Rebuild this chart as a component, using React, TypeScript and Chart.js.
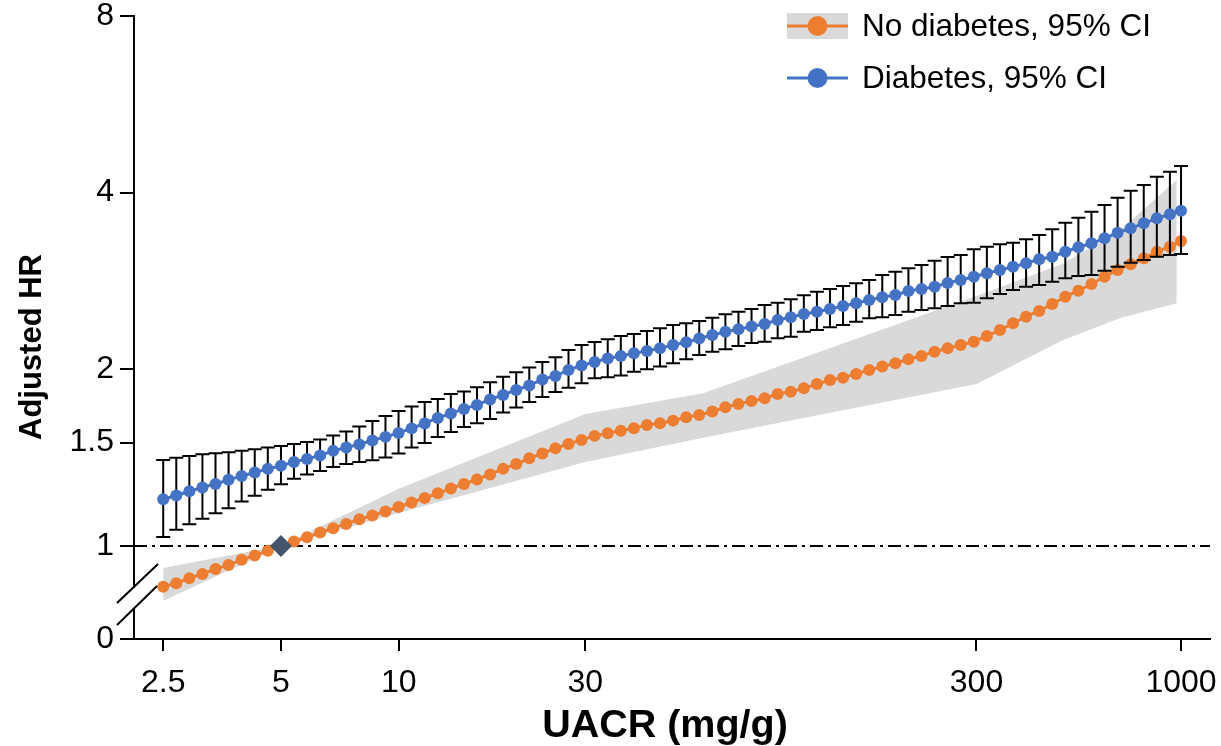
import React, { useEffect, useRef } from 'react';
import { Chart, registerables } from 'chart.js';

Chart.register(...registerables);

// ---- data ----
const uacr = [
  2.5, 2.7, 2.916, 3.149, 3.401, 3.673, 3.967, 4.285, 4.627, 5,
  5.397, 5.829, 6.295, 6.799, 7.343, 7.93, 8.565, 9.25, 9.99, 10.789,
  11.652, 12.585, 13.591, 14.679, 15.853, 17.121, 18.491, 19.97, 21.568, 23.293,
  25.157, 27.169, 29.343, 31.69, 34.225, 36.963, 39.92, 43.114, 46.563, 50.288,
  54.311, 58.656, 63.349, 68.417, 73.89, 79.801, 86.185, 93.08, 100.526, 108.569,
  117.254, 126.634, 136.765, 147.706, 159.523, 172.285, 186.067, 200.953, 217.029, 234.391,
  253.143, 273.394, 295.266, 318.887, 344.398, 371.95, 401.706, 433.842, 468.549, 506.033,
  546.516, 590.237, 637.456, 688.453, 743.529, 803.011, 867.252, 936.632, 1000,
];

const noDiabetesHR = [
  0.852, 0.864, 0.881, 0.896, 0.913, 0.928, 0.947, 0.963, 0.981, 1.0,
  1.017, 1.035, 1.054, 1.072, 1.09, 1.11, 1.127, 1.145, 1.165, 1.186,
  1.207, 1.229, 1.253, 1.275, 1.298, 1.324, 1.353, 1.379, 1.41, 1.437,
  1.467, 1.492, 1.516, 1.54, 1.556, 1.572, 1.587, 1.607, 1.618, 1.635,
  1.657, 1.672, 1.694, 1.723, 1.746, 1.766, 1.785, 1.815, 1.832, 1.856,
  1.888, 1.918, 1.935, 1.964, 1.995, 2.021, 2.048, 2.08, 2.107, 2.143,
  2.172, 2.2, 2.229, 2.279, 2.333, 2.396, 2.458, 2.514, 2.584, 2.659,
  2.722, 2.795, 2.876, 2.953, 3.019, 3.091, 3.172, 3.235, 3.308,
];

const diabetesHR = [
  1.201, 1.219, 1.239, 1.258, 1.275, 1.296, 1.316, 1.334, 1.353, 1.37,
  1.39, 1.407, 1.426, 1.452, 1.472, 1.489, 1.513, 1.534, 1.558, 1.586,
  1.617, 1.652, 1.682, 1.712, 1.739, 1.777, 1.808, 1.844, 1.877, 1.922,
  1.948, 1.995, 2.03, 2.058, 2.087, 2.107, 2.13, 2.149, 2.172, 2.2,
  2.223, 2.257, 2.288, 2.318, 2.34, 2.366, 2.389, 2.427, 2.453, 2.485,
  2.507, 2.534, 2.564, 2.591, 2.625, 2.653, 2.677, 2.719, 2.741, 2.765,
  2.806, 2.839, 2.876, 2.915, 2.953, 2.991, 3.031, 3.079, 3.111, 3.172,
  3.228, 3.279, 3.344, 3.418, 3.477, 3.546, 3.616, 3.674, 3.726,
];

const diabetesUpper = [
  1.401, 1.414, 1.423, 1.433, 1.439, 1.444, 1.453, 1.461, 1.471, 1.48,
  1.492, 1.504, 1.519, 1.543, 1.567, 1.598, 1.633, 1.665, 1.698, 1.729,
  1.759, 1.78, 1.815, 1.833, 1.864, 1.901, 1.943, 1.977, 2.013, 2.058,
  2.096, 2.157, 2.2, 2.226, 2.25, 2.279, 2.297, 2.324, 2.349, 2.38,
  2.396, 2.417, 2.449, 2.482, 2.507, 2.534, 2.574, 2.597, 2.632, 2.674,
  2.712, 2.741, 2.773, 2.803, 2.839, 2.895, 2.933, 2.972, 3.011, 3.062,
  3.107, 3.132, 3.202, 3.235, 3.266, 3.286, 3.33, 3.387, 3.464, 3.555,
  3.625, 3.711, 3.81, 3.921, 4.03, 4.121, 4.257, 4.342, 4.44,
];

const diabetesLower = [
  1.036, 1.065, 1.089, 1.112, 1.137, 1.159, 1.19, 1.218, 1.246, 1.274,
  1.301, 1.324, 1.342, 1.363, 1.379, 1.39, 1.399, 1.415, 1.437, 1.472,
  1.498, 1.534, 1.564, 1.595, 1.618, 1.646, 1.688, 1.722, 1.759, 1.794,
  1.83, 1.861, 1.893, 1.931, 1.938, 1.952, 1.981, 2.0, 2.021, 2.048,
  2.08, 2.116, 2.143, 2.163, 2.191, 2.217, 2.229, 2.259, 2.273, 2.318,
  2.333, 2.358, 2.38, 2.411, 2.443, 2.453, 2.475, 2.507, 2.524, 2.541,
  2.564, 2.591, 2.597, 2.642, 2.687, 2.73, 2.765, 2.784, 2.82, 2.858,
  2.884, 2.895, 2.944, 2.991, 3.038, 3.071, 3.111, 3.132, 3.144,
];

const bandUacr = [2.5, 5, 10, 30, 60, 300, 500, 700, 975];
const bandLower = [0.806, 0.998, 1.138, 1.39, 1.528, 1.888, 2.244, 2.446, 2.591];
const bandUpper = [0.917, 1.002, 1.251, 1.678, 1.82, 2.666, 3.028, 3.454, 4.203];

const referenceUacr = [5];
const referenceHR = [1];

const xTicks = [2.5, 5, 10, 30, 300, 1000];
const xTickLabels = ['2.5', '5', '10', '30', '300', '1000'];
const yTicks = [0.694, 1, 1.5, 2, 4, 8];
const yTickLabels = ['0', '1', '1.5', '2', '4', '8'];

const X_MIN = 2.105;
const X_MAX = 1186;
const Y_MIN = 0.694;
const Y_MAX = 8;

const ORANGE = '#ED7D31';
const BLUE = '#4472C4';
const BAND = '#D9D9D9';
const DIAMOND = '#44546A';
const FONT = "'Liberation Sans', Arial, sans-serif";

const pts = (xs: number[], ys: number[]) => xs.map((x, i) => ({ x, y: ys[i] }));

const errorBarPlugin = {
  id: 'errorBars',
  beforeDatasetDraw(chart: any, args: any) {
    if (args.index !== 1) return;
    const { ctx } = chart;
    const xs = chart.scales.x;
    const ys = chart.scales.y;
    ctx.save();
    ctx.strokeStyle = '#000';
    ctx.lineWidth = 2;
    const cap = 7;
    for (let i = 0; i < uacr.length; i++) {
      const px = xs.getPixelForValue(uacr[i]);
      const pLo = ys.getPixelForValue(diabetesLower[i]);
      const pHi = ys.getPixelForValue(diabetesUpper[i]);
      ctx.beginPath();
      ctx.moveTo(px, pLo);
      ctx.lineTo(px, pHi);
      ctx.moveTo(px - cap, pHi);
      ctx.lineTo(px + cap, pHi);
      ctx.moveTo(px - cap, pLo);
      ctx.lineTo(px + cap, pLo);
      ctx.stroke();
    }
    ctx.restore();
  },
};

const decorPlugin = {
  id: 'decor',
  afterDraw(chart: any) {
    const { ctx, chartArea } = chart;
    const L = chartArea.left;
    const B = chartArea.bottom;
    ctx.save();
    // axis break
    ctx.strokeStyle = '#fff';
    ctx.lineWidth = 4;
    ctx.beginPath();
    ctx.moveTo(L, B - 51);
    ctx.lineTo(L, B - 31);
    ctx.stroke();
    ctx.strokeStyle = '#000';
    ctx.lineWidth = 2;
    ctx.beginPath();
    ctx.moveTo(L - 17, B - 36);
    ctx.lineTo(L + 24, B - 75);
    ctx.moveTo(L - 17, B - 14);
    ctx.lineTo(L + 23, B - 53);
    ctx.stroke();

    // legend
    const ds = chart.data.datasets;
    const rows = [
      { label: ds[2].label, color: ORANGE, y: 26, box: true },
      { label: ds[1].label, color: BLUE, y: 78, box: false },
    ];
    rows.forEach((r) => {
      if (r.box) {
        ctx.fillStyle = BAND;
        ctx.fillRect(787, r.y - 13, 61, 26);
      }
      ctx.strokeStyle = r.color;
      ctx.lineWidth = 3;
      ctx.beginPath();
      ctx.moveTo(787, r.y);
      ctx.lineTo(848, r.y);
      ctx.stroke();
      ctx.fillStyle = r.color;
      ctx.beginPath();
      ctx.arc(817.5, r.y, 10, 0, Math.PI * 2);
      ctx.fill();
      ctx.fillStyle = '#000';
      ctx.font = `31.5px ${FONT}`;
      ctx.textAlign = 'left';
      ctx.textBaseline = 'middle';
      ctx.fillText(r.label, 862, r.y + 1);
    });

    // axis titles
    ctx.fillStyle = '#000';
    ctx.textAlign = 'center';
    ctx.textBaseline = 'alphabetic';
    ctx.font = `bold 39.5px ${FONT}`;
    ctx.fillText('UACR (mg/g)', 665, 737);
    ctx.font = `bold 31px ${FONT}`;
    ctx.translate(41, 347);
    ctx.rotate(-Math.PI / 2);
    ctx.fillText('Adjusted HR', 0, 0);
    ctx.restore();
  },
};

export default function App() {
  const ref = useRef<HTMLCanvasElement>(null);

  useEffect(() => {
    if (!ref.current) return;
    const chart = new Chart(ref.current, {
      type: 'line',
      data: {
        datasets: [
          {
            label: 'Reference',
            data: pts(referenceUacr, referenceHR),
            showLine: false,
            pointStyle: 'rectRot',
            pointRadius: 11,
            pointBackgroundColor: DIAMOND,
            pointBorderWidth: 0,
            borderColor: DIAMOND,
            order: 0,
          },
          {
            label: 'Diabetes, 95% CI',
            data: pts(uacr, diabetesHR),
            borderColor: BLUE,
            borderWidth: 3,
            pointRadius: 6,
            pointBackgroundColor: BLUE,
            pointBorderWidth: 0,
            order: 1,
          },
          {
            label: 'No diabetes, 95% CI',
            data: pts(uacr, noDiabetesHR),
            borderColor: ORANGE,
            borderWidth: 3,
            pointRadius: 6,
            pointBackgroundColor: ORANGE,
            pointBorderWidth: 0,
            order: 2,
          },
          {
            label: 'CI upper',
            data: pts(bandUacr, bandUpper),
            borderWidth: 0,
            borderColor: 'rgba(0,0,0,0)',
            pointRadius: 0,
            fill: '+1',
            backgroundColor: BAND,
            order: 3,
          },
          {
            label: 'CI lower',
            data: pts(bandUacr, bandLower),
            borderWidth: 0,
            borderColor: 'rgba(0,0,0,0)',
            pointRadius: 0,
            fill: false,
            order: 4,
          },
          {
            label: 'HR = 1',
            data: pts([X_MIN, X_MAX], [1, 1]),
            borderColor: '#000',
            borderWidth: 2,
            borderDash: [13, 5, 3, 5],
            pointRadius: 0,
            fill: false,
            order: 5,
          },
        ],
      },
      options: {
        responsive: false,
        animation: false,
        events: [],
        layout: { padding: { left: 0, right: 8, top: 16, bottom: 0 } },
        plugins: {
          legend: { display: false },
          tooltip: { enabled: false },
        },
        scales: {
          x: {
            type: 'logarithmic',
            min: X_MIN,
            max: X_MAX,
            bounds: 'data',
            afterBuildTicks: (s: any) => {
              s.ticks = xTicks.map((v) => ({ value: v }));
            },
            afterFit: (s: any) => {
              s.height = 107;
              s.paddingLeft = 0;
              s.paddingRight = 0;
            },
            ticks: {
              autoSkip: false,
              maxRotation: 0,
              padding: 13,
              color: '#000',
              font: { family: FONT, size: 32 },
              callback: (v: any) => {
                const i = xTicks.indexOf(Number(v));
                return i >= 0 ? xTickLabels[i] : '';
              },
            },
            grid: {
              drawOnChartArea: false,
              drawTicks: true,
              tickLength: 12,
              color: '#000',
              lineWidth: 2,
            },
            border: { display: true, color: '#000', width: 2 },
          },
          y: {
            type: 'logarithmic',
            min: Y_MIN,
            max: Y_MAX,
            bounds: 'data',
            afterBuildTicks: (s: any) => {
              s.ticks = yTicks.map((v) => ({ value: v }));
            },
            afterFit: (s: any) => {
              s.width = 134;
              s.paddingTop = 0;
              s.paddingBottom = 0;
            },
            ticks: {
              autoSkip: false,
              padding: 6,
              color: '#000',
              font: { family: FONT, size: 32 },
              callback: (v: any) => {
                const i = yTicks.indexOf(Number(v));
                return i >= 0 ? yTickLabels[i] : '';
              },
            },
            grid: {
              drawOnChartArea: false,
              drawTicks: true,
              tickLength: 14,
              color: '#000',
              lineWidth: 2,
            },
            border: { display: true, color: '#000', width: 2 },
          },
        },
      } as any,
      plugins: [errorBarPlugin, decorPlugin],
    });
    return () => chart.destroy();
  }, []);

  return (
    <div style={{ position: 'fixed', left: 0, top: 0, width: 1221, height: 746, background: '#fff' }}>
      <canvas ref={ref} width={1221} height={746} style={{ display: 'block', width: 1221, height: 746 }} />
    </div>
  );
}
